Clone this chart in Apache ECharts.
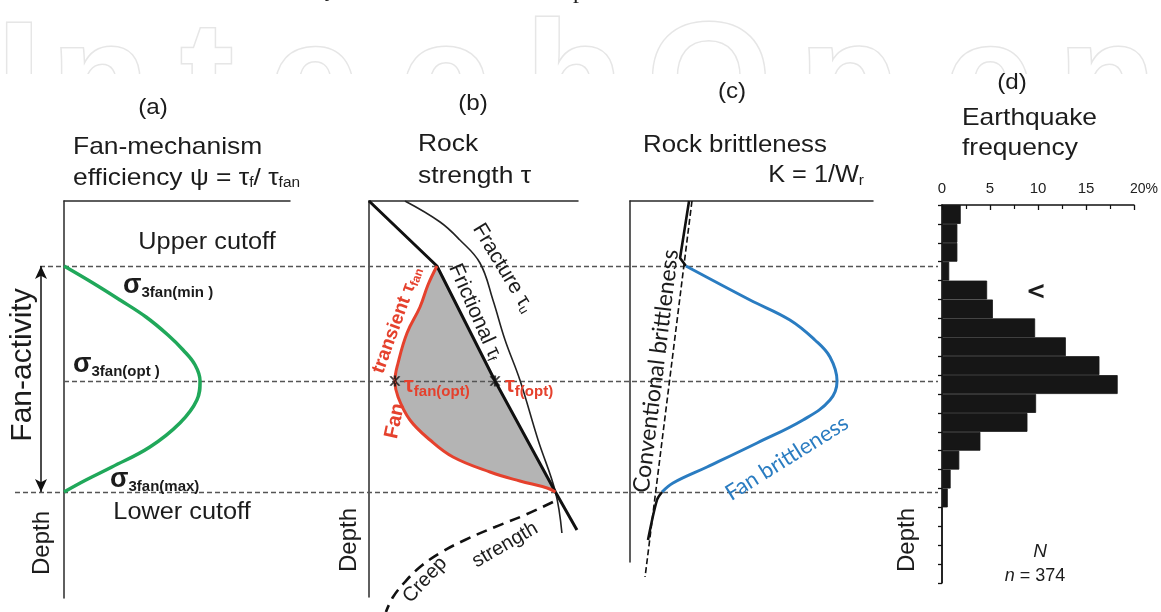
<!DOCTYPE html>
<html><head><meta charset="utf-8">
<script src="https://cdn.jsdelivr.net/npm/echarts@6/dist/echarts.min.js"></script>
<style>html,body{margin:0;padding:0;background:#fff}#c{width:1161px;height:612px}</style>
</head><body><div id="c"></div>
<script>
// ---------------- DATA ----------------
// Depth is in arbitrary units (0 = top of the depth axis)
const cutoffDepths = [16.25, 45, 72.75];          // upper cutoff, optimum, lower cutoff

// (a) fan-mechanism efficiency psi vs depth
const effDepth = [16.25, 20.5, 24.75, 29, 33.5, 37.25, 41, 45, 49.75, 55.5, 61.5, 66.5, 69.75, 72.75];
const effValue = [0, 12.8, 24.8, 36.3, 46, 52.7, 58, 60.2, 58.8, 51.3, 38, 21.2, 9.7, 0];

// (b) rock strength vs depth
const frictionalDepth = [0, 16.25, 45, 72.75, 82.25];
const frictionalValue = [0, 32.5, 60.3, 89.2, 99.5];
const fractureDepth = [0, 5.25, 9.75, 15.5, 24.75, 34.75, 44.75, 59.75, 72.75, 83];
const fractureValue = [17.2, 34, 43.5, 53.1, 59.3, 65.1, 72.2, 80.9, 89.2, 92.3];
const fanDepth = [16.25, 21, 26.5, 33, 40.5, 45, 49, 54.75, 59.75, 64, 67.75, 70, 71.75, 72.75];
const fanValue = [32.5, 28.2, 24.4, 18.2, 13.9, 12.4, 13.9, 19.6, 29.2, 40.2, 57.9, 72.2, 85.2, 89.2];
const creepDepth = [75.25, 78.5, 81.5, 84.75, 88, 91.5, 95.25, 99, 102.75];
const creepValue = [88, 74.6, 60.3, 45.9, 34, 24.4, 17.2, 11.5, 8.1];
const optStrength = [12.4, 60.3];                  // tau_fan(opt), tau_f(opt) at optimum depth

// (c) rock brittleness vs depth
const convDepth = [0, 94];
const convValue = [25.5, 6.2];
const brittleTopDepth = [0, 14.25, 16.25];
const brittleTopValue = [24.3, 20.6, 23.0];
const fanBrittleDepth = [16.25, 24.75, 29.75, 34.75, 39, 45, 49.75, 54.75, 60.5, 66.5, 70.5, 72.75];
const fanBrittleValue = [23, 49.4, 65.8, 76.1, 82.3, 85.2, 82.3, 71.2, 52.3, 31.7, 17.7, 13.2];
const brittleBotDepth = [72.75, 74.75, 84.75];
const brittleBotValue = [13.2, 11.1, 7.4];

// (d) earthquake frequency (%) per depth bin
const quakeBins = ['1','2','3','4','5','6','7','8','9','10','11','12','13','14','15','16','17','18','19','20'];
const quakePct = [1.95, 1.6, 1.6, 0.75, 4.7, 5.3, 9.7, 12.9, 16.4, 18.3, 9.8, 8.9, 4.0, 1.8, 0.9, 0.6, 0, 0, 0, 0];
const quakeTicks = [0, 5, 10, 15, 20];

// ---------------- STYLE / HELPERS ----------------
const FF = "'Liberation Sans', Arial, sans-serif";
const FC = "Lato, 'Open Sans', sans-serif";
const INK = '#1c1c1c';
const RED = '#e5412d', GREEN = '#20a85a', BLUE = '#2a7cc1', GRAY = '#b4b4b4';
const pairs = (xs, ys) => xs.map((v, i) => [v, ys[i]]);

function T(text, x, y, o = {}) {
  const al = o.align || 'center';
  const va = o.va || 'middle';
  const style = {
    text, fontSize: o.fs || 23, fontFamily: o.ff || FF, fontWeight: o.fw || 'normal',
    fontStyle: o.it ? 'italic' : 'normal', fill: o.color || INK,
    align: al, verticalAlign: va, textAlign: al, textVerticalAlign: va
  };
  if (o.rich) style.rich = o.rich;
  return { type: 'text', x, y, z: 10, rotation: (o.rot || 0) * Math.PI / 180,
    scaleX: o.sx != null ? o.sx : (o.rot ? 1 : 1.1), style };
}
function R(fs, sub, color, fw, ff, pad) {
  return {
    n: { fontSize: fs, fontFamily: ff || FF, fontWeight: fw || 'normal', fill: color || INK },
    s: { fontSize: sub, fontFamily: ff || FF, fontWeight: fw || 'normal', fill: color || INK,
         padding: [pad != null ? pad : Math.round(fs * 0.45), 0, 0, 0] },
    i: { fontSize: fs, fontFamily: ff || FF, fontStyle: 'italic', fill: color || INK }
  };
}
const sig = {
  g: { fontSize: 27, fontFamily: FF, fontWeight: 'bold', fill: INK },
  s: { fontSize: 15, fontFamily: FF, fontWeight: 'bold', fill: INK, padding: [13, 0, 0, 0] }
};

const axisBlack = { show: true, lineStyle: { color: '#2a2a2a', width: 1.5 } };
function panelAxes(idx, ymax) {
  return {
    x: { type: 'value', gridIndex: idx, min: 0, max: 100, position: 'top',
         axisLine: axisBlack, axisTick: { show: false }, axisLabel: { show: false }, splitLine: { show: false } },
    y: { type: 'value', gridIndex: idx, min: 0, max: ymax, inverse: true,
         axisLine: axisBlack, axisTick: { show: false }, axisLabel: { show: false }, splitLine: { show: false } }
  };
}
const A = panelAxes(0, 99.25), B = panelAxes(1, 99), C = panelAxes(2, 90.25);
const hiddenAxis = (idx, min, max, inv) => ({ type: 'value', gridIndex: idx, min, max, inverse: !!inv, show: false });

function curve(xi, yi, data, color, width, extra) {
  return Object.assign({ type: 'line', xAxisIndex: xi, yAxisIndex: yi, data, symbol: 'none',
    lineStyle: { color, width }, z: 6, silent: true }, extra || {});
}

const asteriskPath = 'path://M-0.6,-5L0.6,-5L0.6,5L-0.6,5Z M1.98,4.63L3.02,4.03L-1.98,-4.63L-3.02,-4.03Z M-1.98,4.63L-3.02,4.03L1.98,-4.63L3.02,-4.03Z';

// dashed cutoff lines start at different x (layout), end at panel d axis
const dashStarts = [40, 64, 15];
const dashEnd = 938;

// watermark letters
const wm = [['I', 19], ['n', 100], ['t', 207], ['e', 314], ['c', 444], ['h', 574], ['O', 709], ['p', 848], ['e', 989], ['n', 1107]];

const option = {
  animation: false,
  backgroundColor: '#ffffff',
  grid: [
    { left: 64, top: 201, width: 226, height: 397 },
    { left: 369, top: 201, width: 209, height: 396 },
    { left: 630, top: 201, width: 243, height: 361 },
    { left: 0, top: 201, width: 1161, height: 400 },
    { left: 942, top: 205, width: 195, height: 378 }
  ],
  xAxis: [A.x, B.x, C.x, hiddenAxis(3, 0, 1161),
    { type: 'value', gridIndex: 4, min: 0, max: 20, interval: 5, position: 'top', z: 5,
      axisLine: { show: true, lineStyle: { color: '#111', width: 1.6 } },
      axisTick: { show: true, inside: true, length: 5, lineStyle: { color: '#111', width: 1.3 } },
      minorTick: { show: true, splitNumber: 2, length: 4, lineStyle: { color: '#111', width: 1.2 } },
      splitLine: { show: false },
      axisLabel: { margin: 9, fontSize: 15, fontFamily: FF, color: '#222',
        formatter: v => quakeTicks.includes(v) ? (v === 20 ? '{p|20%}' : String(v)) : '',
        rich: { p: { fontSize: 14, fontFamily: FF, color: '#222', padding: [0, 0, 0, 20] } } } }
  ],
  yAxis: [A.y, B.y, C.y, hiddenAxis(3, 0, 100, true),
    { type: 'category', gridIndex: 4, data: quakeBins, inverse: true, boundaryGap: true,
      axisLine: { show: true, lineStyle: { color: '#111', width: 1.6 } },
      axisTick: { show: true, length: 4, lineStyle: { color: '#111', width: 1.3 } },
      axisLabel: { show: false }, splitLine: { show: false } }
  ],
  series: [
    // cutoff dashed lines + fan-activity arrow (overlay grid)
    { type: 'line', xAxisIndex: 3, yAxisIndex: 3, data: [], silent: true,
      markLine: { silent: true, z: 3, symbol: ['none', 'none'], label: { show: false },
        lineStyle: { color: '#555', width: 1.4, type: [5, 3] },
        data: cutoffDepths.map((d, i) => [{ coord: [dashStarts[i], d] }, { coord: [dashEnd, d] }]) } },
    { type: 'line', xAxisIndex: 3, yAxisIndex: 3, data: [], silent: true,
      markLine: { silent: true, z: 6, symbol: ['arrow', 'arrow'], symbolSize: [9, 13], label: { show: false },
        lineStyle: { color: '#111', width: 1.5, type: 'solid' },
        data: [[{ coord: [41, cutoffDepths[0]] }, { coord: [41, cutoffDepths[2]] }]] } },
    // (a)
    curve(0, 0, pairs(effValue, effDepth), GREEN, 3.5, { smooth: 0.4 }),
    // (b) gray fan region
    { type: 'custom', xAxisIndex: 1, yAxisIndex: 1, silent: true, z: 2,
      data: [0],
      renderItem: (params, api) => {
        const pts = pairs(fanValue, fanDepth).map(p => api.coord(p));
        const fr = pairs(frictionalValue, frictionalDepth).filter(p => p[1] >= cutoffDepths[0] && p[1] <= cutoffDepths[2]).reverse();
        fr.forEach(p => pts.push(api.coord(p)));
        return { type: 'polygon', shape: { points: pts, smooth: 0.25 }, style: { fill: GRAY } };
      } },
    curve(1, 1, pairs(fractureValue, fractureDepth), '#222', 1.6, { smooth: 0.4 }),
    curve(1, 1, pairs(frictionalValue, frictionalDepth), '#111', 3),
    curve(1, 1, pairs(fanValue, fanDepth), RED, 3, { smooth: 0.4 }),
    curve(1, 1, pairs(creepValue, creepDepth), '#111', 2.6, { smooth: 0.4, clip: false,
      lineStyle: { color: '#111', width: 2.6, type: [11, 7] } }),
    { type: 'scatter', xAxisIndex: 1, yAxisIndex: 1, silent: true, z: 8,
      data: optStrength.map(v => [v, cutoffDepths[1]]),
      symbol: asteriskPath, symbolSize: 11, itemStyle: { color: '#111' } },
    // (c)
    curve(2, 2, pairs(convValue, convDepth), '#111', 1.6, { clip: false,
      lineStyle: { color: '#111', width: 1.6, type: [6, 3] } }),
    curve(2, 2, pairs(brittleTopValue, brittleTopDepth), '#111', 2.6),
    curve(2, 2, pairs(fanBrittleValue, fanBrittleDepth), BLUE, 3, { smooth: 0.4 }),
    curve(2, 2, pairs(brittleBotValue, brittleBotDepth), '#111', 2.6, { smooth: 0.3 }),
    // (d)
    { type: 'bar', xAxisIndex: 4, yAxisIndex: 4, data: quakePct, barWidth: '100%', barCategoryGap: 0,
      itemStyle: { color: '#161616', borderColor: '#161616', borderWidth: 0.8 }, silent: true, z: 4 }
  ],
  graphic: { elements: [].concat(
    wm.map(([ch, x]) => ({ type: 'text', x, y: 9, z: 0, silent: true,
      style: { text: ch, fontSize: 160, fontFamily: FF, fontWeight: 'bold', fill: '#ffffff',
               stroke: '#e6e6e6', lineWidth: 3, align: 'center', verticalAlign: 'top',
               textAlign: 'center', textVerticalAlign: 'top' } })),
    [{ type: 'rect', z: 1, silent: true, shape: { x: 0, y: 74, width: 1161, height: 98 }, style: { fill: '#ffffff' } }],
    [
      T('y,', 333, 2, { fs: 24, ff: "'Liberation Serif', serif", va: 'bottom', sx: 1, color: '#222' }),
      T('p', 579, 4, { fs: 24, ff: "'Liberation Serif', serif", va: 'bottom', sx: 1, color: '#222' }),

      T('(a)', 153, 108, { fs: 22 }),
      T('Fan-mechanism', 73, 147, { fs: 24, align: 'left' }),
      T('{n|efficiency ψ = τ}{s|f}{n|/ τ}{s|fan}', 73, 178, { align: 'left', rich: R(24, 14) }),
      T('Upper cutoff', 207, 243, { fs: 23 }),
      T('Lower cutoff', 182, 513, { fs: 23 }),
      T('{g|σ}{s|3fan(min )}', 123, 286, { align: 'left', sx: 1, rich: sig }),
      T('{g|σ}{s|3fan(opt )}', 73, 365, { align: 'left', sx: 1, rich: sig }),
      T('{g|σ}{s|3fan(max)}', 110, 480, { align: 'left', sx: 1, rich: sig }),
      T('Fan-activity', 23, 365, { fs: 30, rot: 90 }),
      T('Depth', 42, 543, { fs: 24, rot: 90 }),

      T('(b)', 473, 104, { fs: 22 }),
      T('Rock', 418, 144, { fs: 24, align: 'left' }),
      T('strength τ', 418, 176, { fs: 24, align: 'left' }),
      T('{n|Fracture τ}{s|u}', 503, 268, { rot: -59, rich: R(21, 13) }),
      T('{n|Frictional τ}{s|f}', 475, 312, { rot: -66, rich: R(21, 13) }),
      T('{n|transient τ}{s|fan}', 397, 320, { rot: 70, rich: R(19, 12, RED, 'bold') }),
      T('Fan', 395, 421, { fs: 20, fw: 'bold', color: RED, rot: 78 }),
      T('{n|τ}{s|fan(opt)}', 404, 386, { align: 'left', sx: 1, rich: R(22, 15, RED, 'bold', FF, 12) }),
      T('{n|τ}{s|f(opt)}', 505, 386, { align: 'left', sx: 1, rich: R(22, 15, RED, 'bold', FF, 12) }),
      T('Depth', 349, 540, { fs: 24, rot: 90 }),
      T('Creep', 425, 580, { fs: 20, rot: 47 }),
      T('strength', 505, 545, { fs: 20, rot: 30 }),

      T('(c)', 732, 92, { fs: 22 }),
      T('Rock brittleness', 643, 146, { fs: 23.5, align: 'left' }),
      T('{n|K = 1/W}{s|r}', 864, 176, { align: 'right', rich: R(23, 14) }),
      T('Conventional brittleness', 656, 371, { fs: 23, ff: FC, rot: 83 }),
      T('Fan brittleness', 787, 458, { fs: 22, ff: FC, rot: 32, color: BLUE }),

      T('(d)', 1012, 83, { fs: 22 }),
      T('Earthquake', 962, 118, { fs: 24, align: 'left' }),
      T('frequency', 962, 148, { fs: 24, align: 'left' }),
      T('Depth', 907, 540, { fs: 24, rot: 90 }),
      T('<', 1036, 293, { fs: 24, fw: 'bold', ff: "'DejaVu Sans', sans-serif", sx: 1 }),
      T('N', 1040, 552, { fs: 19, it: true, sx: 1 }),
      T('{i|n}{n| = 374}', 1035, 576, { sx: 1, rich: R(18, 12) })
    ]
  ) }
};

const chart = echarts.init(document.getElementById('c'), null, { renderer: 'canvas' });
chart.setOption(option);
</script>
</body></html>
